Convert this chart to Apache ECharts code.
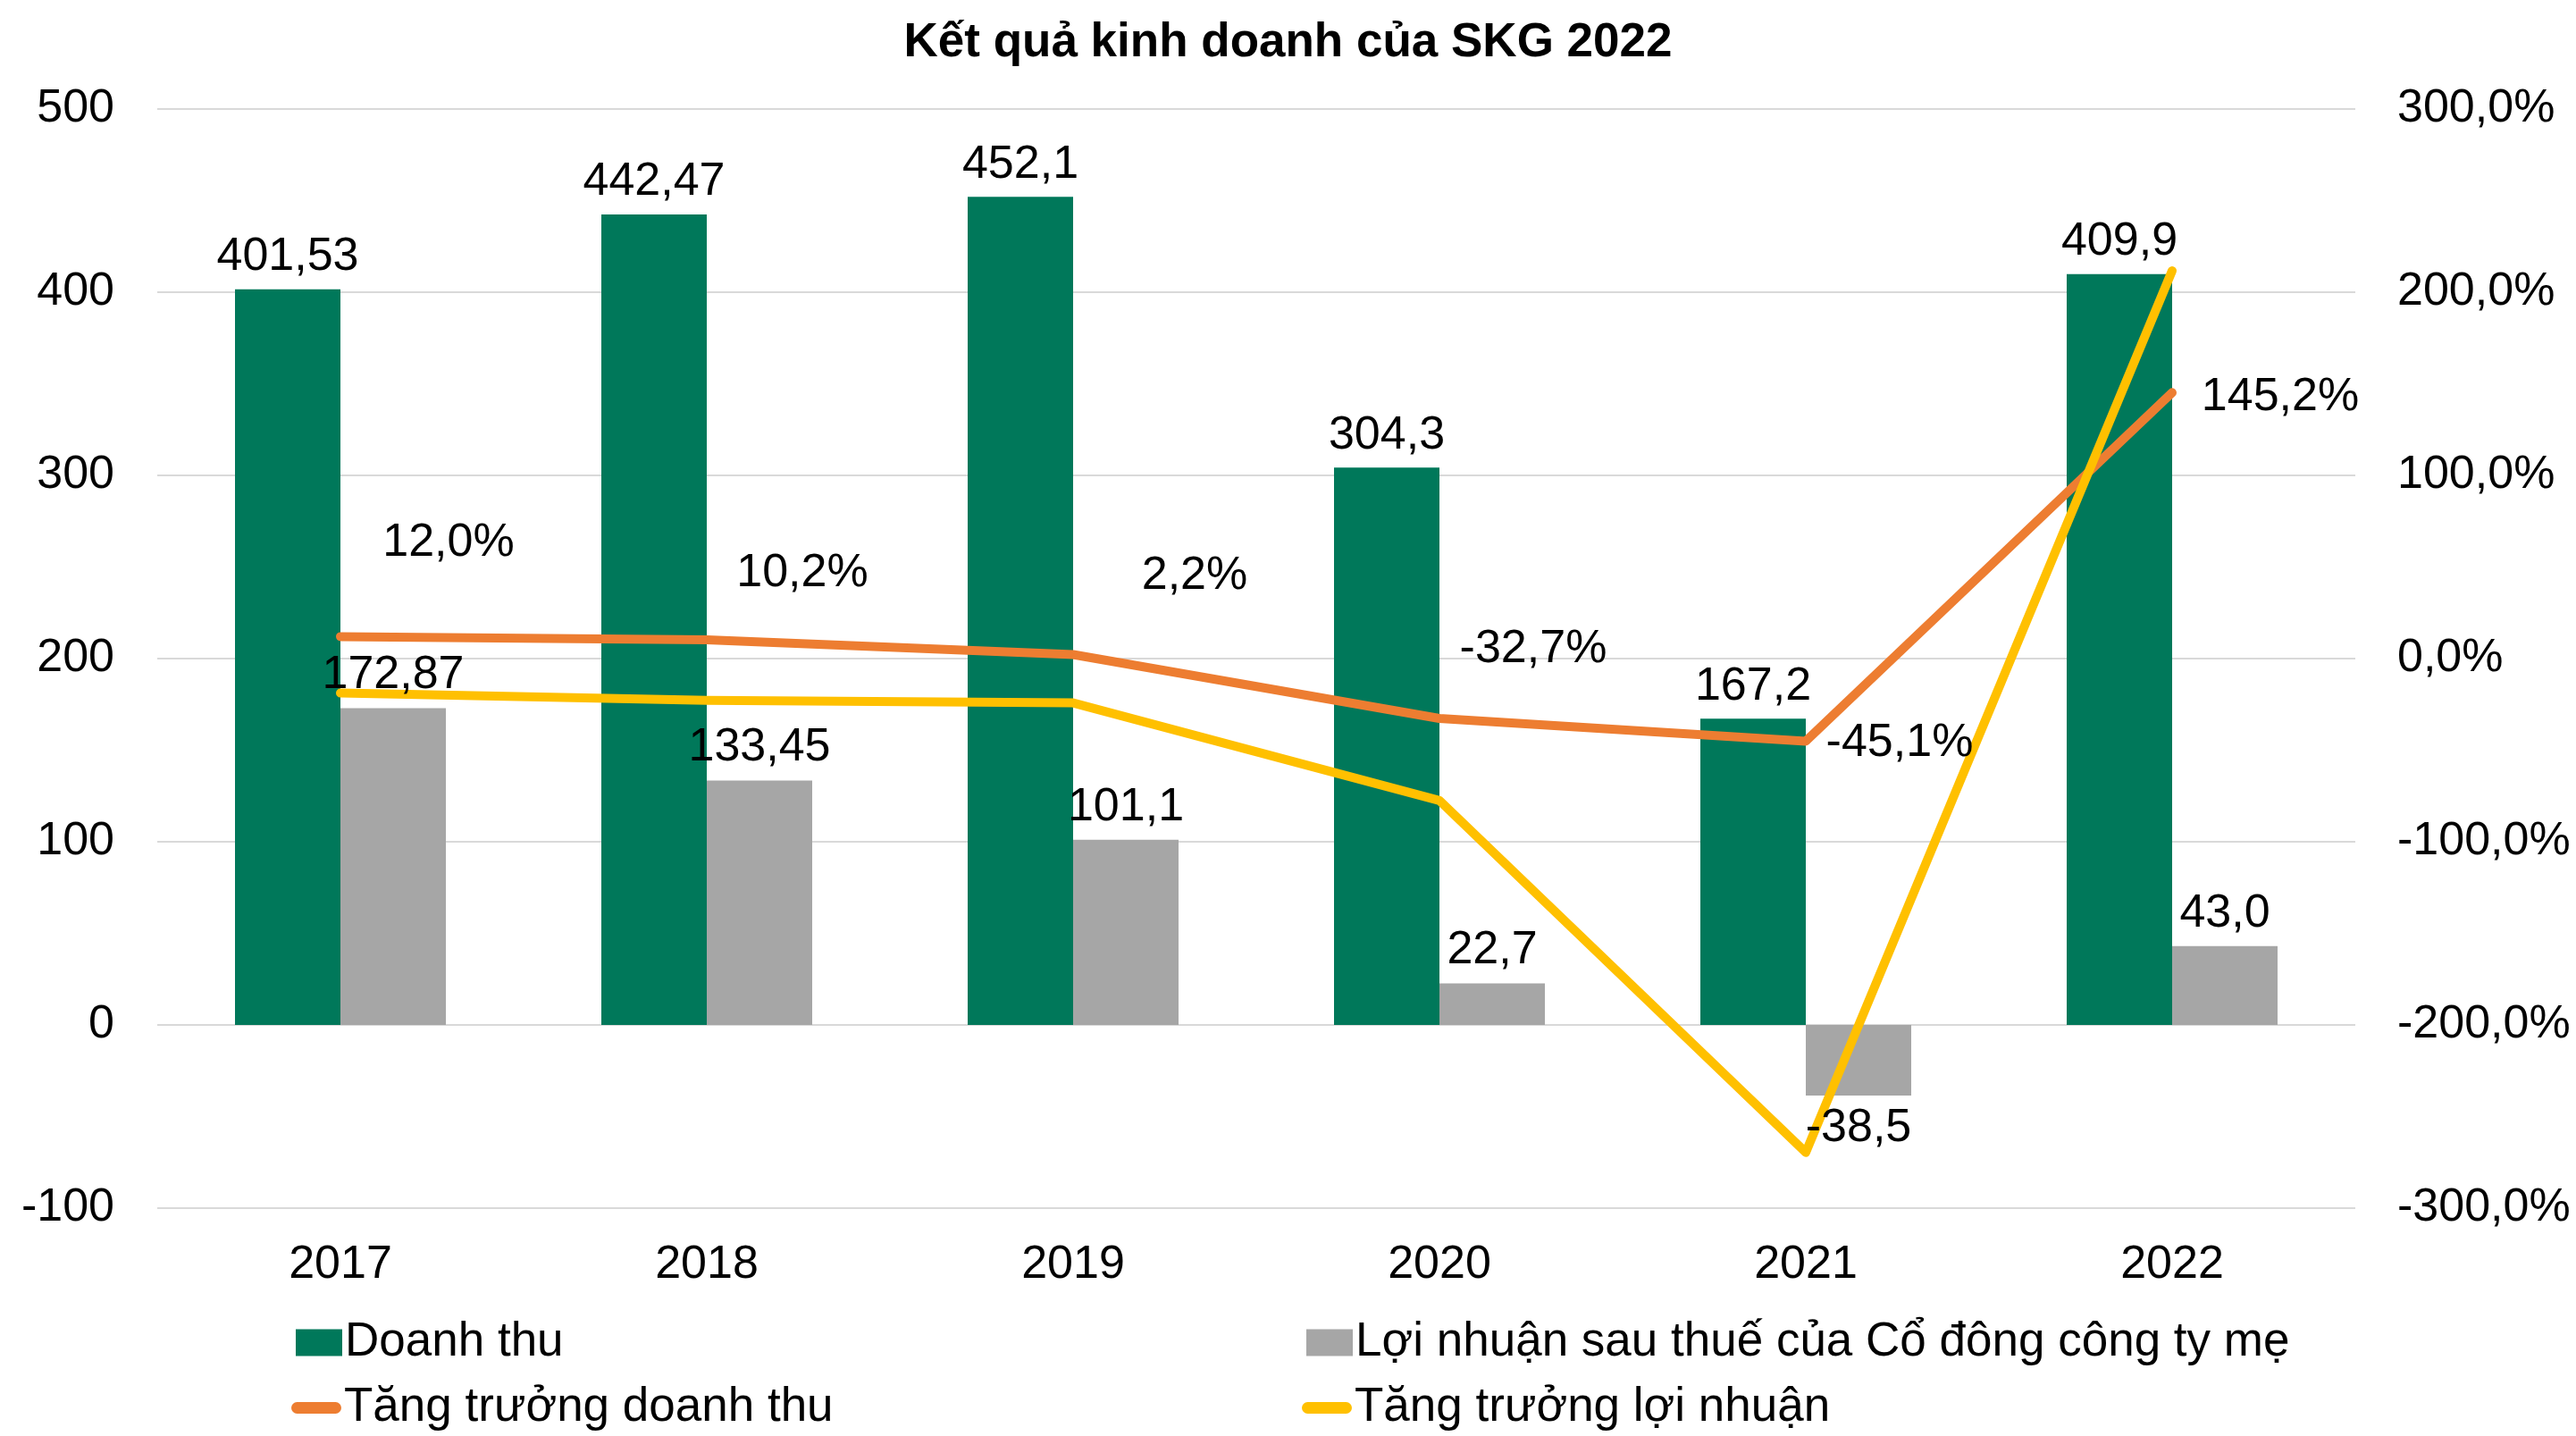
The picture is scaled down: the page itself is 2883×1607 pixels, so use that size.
<!DOCTYPE html>
<html lang="vi" style="height: 100%">
<head>
    <meta charset="UTF-8">
    <title>Kết quả kinh doanh của SKG 2022</title>
</head>
<body style="height: 100%; margin: 0; background: #fff">
<div id="container" style="width: 2883px; height: 1607px"></div>
<script src="https://cdn.jsdelivr.net/npm/echarts@6/dist/echarts.min.js"></script>
<script>
    // so lieu doc tu bieu do
    var years = ['2017', '2018', '2019', '2020', '2021', '2022'];
    var revenue = [401.53, 442.47, 452.1, 304.3, 167.2, 409.9];
    var profit = [172.87, 133.45, 101.1, 22.7, -38.5, 43.0];
    var revenueGrowth = [12.0, 10.2, 2.2, -32.7, -45.1, 145.2];
    var profitGrowth = [-18.8, -22.8, -24.2, -77.5, -269.6, 211.7];
    var names = ['Doanh thu', 'Lợi nhuận sau thuế của Cổ đông công ty mẹ',
        'Tăng trưởng doanh thu', 'Tăng trưởng lợi nhuận'];

    // vi tri nhan % (keo tay nhu trong Excel)
    var growthLabelOffset = [[121, -105], [107, -74], [136, -88], [105, -77], [105, 2], [121, 5]];

    var FONT = 'Liberation Sans, Arial, sans-serif';
    var FS = 52;
    var BAR_W = 118;

    function vn(v) {
        var s = Number.isInteger(v) ? v.toFixed(1) : String(v);
        return s.replace('.', ',');
    }
    function pct(v) {
        return v.toFixed(1).replace('.', ',') + '%';
    }
    function barLabel(p) {
        return vn(typeof p.value === 'object' ? p.value.value : p.value);
    }

    var chart = echarts.init(document.getElementById('container'));

    var lineIcon = 'path://M6,0 H46 A6,6 0 0 1 46,12 H6 A6,6 0 0 1 6,0 Z';
    function legendAt(name, left, top, icon, w, h) {
        return {
            data: [name], left: left, top: top, icon: icon,
            itemWidth: w, itemHeight: h, itemGap: 0,
            selectedMode: false,
            textStyle: {fontFamily: FONT, fontSize: 53, color: '#000', padding: [0, 0, 0, -2]}
        };
    }

    var option = {
        backgroundColor: '#fff',
        animation: false,
        title: {
            text: 'Kết quả kinh doanh của SKG 2022',
            left: 'center',
            top: 17,
            textStyle: {fontFamily: FONT, fontSize: 53, fontWeight: 'bold', color: '#000'}
        },
        legend: [
            legendAt(names[0], 326, 1471, 'rect', 52, 30),
            legendAt(names[1], 1457, 1471, 'rect', 52, 30),
            legendAt(names[2], 321, 1544, lineIcon, 56, 13),
            legendAt(names[3], 1452, 1544, lineIcon, 56, 13)
        ],
        grid: {left: 176, right: 247, top: 122, bottom: 255},
        xAxis: {
            type: 'category',
            data: years,
            axisLine: {show: false},
            axisTick: {show: false},
            axisLabel: {fontFamily: FONT, fontSize: FS, color: '#000', margin: 38}
        },
        yAxis: [{
            type: 'value', min: -100, max: 500, interval: 100,
            axisLine: {show: false}, axisTick: {show: false},
            splitLine: {lineStyle: {color: '#d9d9d9', width: 2}},
            axisLabel: {fontFamily: FONT, fontSize: FS, color: '#000', margin: 48}
        }, {
            type: 'value', min: -300, max: 300, interval: 100,
            axisLine: {show: false}, axisTick: {show: false},
            splitLine: {show: false},
            axisLabel: {fontFamily: FONT, fontSize: FS, color: '#000', margin: 47, formatter: pct}
        }],
        series: [{
            name: names[0],
            type: 'bar',
            barWidth: BAR_W,
            barGap: '0%',
            itemStyle: {color: '#00785A'},
            label: {
                show: true, position: 'top', distance: 10,
                fontFamily: FONT, fontSize: FS, color: '#000',
                formatter: barLabel
            },
            data: revenue
        }, {
            name: names[1],
            type: 'bar',
            barWidth: BAR_W,
            itemStyle: {color: '#A6A6A6'},
            data: profit
        }, {
            name: names[2],
            type: 'line',
            yAxisIndex: 1,
            symbol: 'circle',
            symbolSize: 2,
            itemStyle: {color: '#ED7D31'},
            lineStyle: {color: '#ED7D31', width: 10, cap: 'round', join: 'round'},
            label: {
                show: true, position: 'inside',
                fontFamily: FONT, fontSize: FS, color: '#000',
                formatter: function (p) { return pct(p.value); }
            },
            data: revenueGrowth.map(function (v, i) {
                return {value: v, label: {offset: growthLabelOffset[i]}};
            })
        }, {
            name: names[3],
            type: 'line',
            yAxisIndex: 1,
            symbol: 'none',
            itemStyle: {color: '#FFC000'},
            lineStyle: {color: '#FFC000', width: 10, cap: 'round', join: 'round'},
            data: profitGrowth
        }, {
            // nhan cua cot loi nhuan, ve tren cac duong
            name: 'nhan-loi-nhuan',
            type: 'scatter',
            z: 10,
            silent: true,
            symbol: 'rect',
            symbolSize: 1,
            itemStyle: {color: 'rgba(0,0,0,0)', opacity: 1},
            label: {
                show: true, position: 'top', distance: 10,
                offset: [BAR_W / 2, 0],
                fontFamily: FONT, fontSize: FS, color: '#000', opacity: 1,
                formatter: barLabel
            },
            data: profit.map(function (v) {
                var item = {value: v};
                if (v < 0) item.label = {position: 'bottom', formatter: barLabel};
                return item;
            })
        }]
    };

    chart.setOption(option);
</script>
</body>
</html>
